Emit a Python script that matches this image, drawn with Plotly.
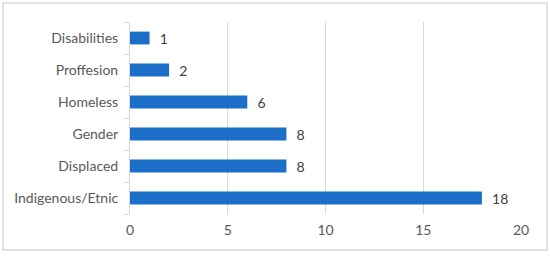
import plotly.graph_objects as go

categories = ["Indigenous/Etnic", "Displaced", "Gender", "Homeless", "Proffesion", "Disabilities"]
counts = [18, 8, 8, 6, 2, 1]
x_ticks = [0, 5, 10, 15, 20]

bar_color = "#1C6FC6"
grid_color = "#D9D9D9"
text_color = "#595959"
font_family = "Lato, 'Open Sans', sans-serif"

fig = go.Figure()
fig.add_trace(go.Bar(
    x=counts,
    y=categories,
    orientation="h",
    marker=dict(color=bar_color, line=dict(width=0)),
    text=counts,
    texttemplate="\u00a0\u00a0%{text}",
    textposition="outside",
    constraintext="none",
    textfont=dict(size=14, color="#404040", family=font_family),
    cliponaxis=False,
    hoverinfo="skip",
))

fig.update_layout(
    width=550,
    height=256,
    margin=dict(l=130, r=29, t=22, b=42, autoexpand=False),
    paper_bgcolor="white",
    plot_bgcolor="white",
    bargap=0.6,
    showlegend=False,
    font=dict(family=font_family, size=14, color=text_color),
)

fig.update_xaxes(
    range=[0, 20],
    tickvals=x_ticks,
    showgrid=True,
    gridcolor=grid_color,
    gridwidth=1,
    zeroline=False,
    showline=False,
    ticks="",
    automargin=False,
    ticklabelstandoff=6,
    tickfont=dict(size=14, color=text_color),
)

fig.update_yaxes(
    type="category",
    showline=True,
    linecolor=grid_color,
    linewidth=1,
    ticks="outside",
    tickson="boundaries",
    ticklen=5,
    tickcolor=grid_color,
    showgrid=False,
    automargin=False,
    ticklabelstandoff=8,
    tickfont=dict(size=14, color=text_color),
)

# light frame around the whole chart
fig.add_shape(
    type="rect", xref="paper", yref="paper",
    x0=-0.3248, x1=1.0665, y0=-0.1875, y1=1.099,
    line=dict(color=grid_color, width=1.5),
)

fig.write_html(
    "out.html",
    config={"displayModeBar": False},
    post_script="document.body.style.margin='0';",
)
